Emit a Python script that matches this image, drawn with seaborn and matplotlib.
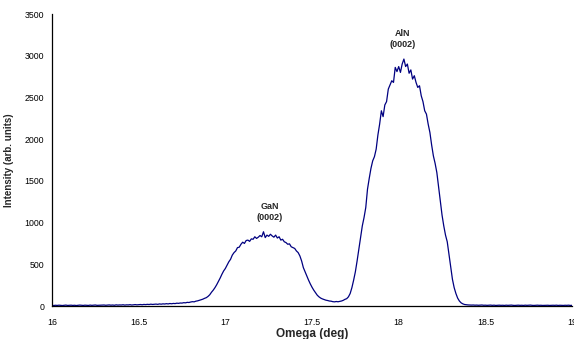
import numpy as np
import pandas as pd
import matplotlib
matplotlib.use('Agg')
import matplotlib.pyplot as plt
import seaborn as sns

# ========= Data (0.01 deg steps from 16 to 19) =========
omega_start = 16.0
omega_step = 0.01

intensity = [
    8, 6, 9, 7, 10, 8, 6, 9, 11, 7,                              # 16.00
    8, 10, 7, 9, 6, 8, 11, 9, 7, 10,                             # 16.10
    9, 7, 11, 8, 10, 12, 8, 9, 11, 10,                           # 16.20
    12, 9, 11, 13, 10, 12, 9, 14, 11, 13,                        # 16.30
    12, 15, 11, 14, 13, 16, 12, 15, 17, 14,                      # 16.40
    16, 18, 15, 19, 17, 20, 18, 22, 19, 21,                      # 16.50
    23, 20, 25, 22, 26, 24, 28, 25, 30, 27,                      # 16.60
    31, 29, 34, 32, 36, 35, 40, 38, 44, 42,                      # 16.70
    48, 52, 50, 58, 62, 68, 75, 82, 92, 100,                     # 16.80
    115, 135, 165, 190, 220, 255, 295, 335, 380, 420,            # 16.90
    450, 490, 530, 560, 610, 640, 660, 700, 705, 740,            # 17.00
    765, 750, 785, 790, 775, 805, 800, 830, 810, 825,            # 17.10
    845, 830, 890, 820, 850, 835, 860, 840, 825, 850,            # 17.20
    815, 830, 790, 800, 770, 760, 740, 745, 710, 700,            # 17.30
    690, 660, 640, 600, 540, 460, 410, 360, 310, 265,            # 17.40
    225, 190, 160, 130, 110, 95, 85, 78, 70, 66,                 # 17.50
    60, 58, 52, 50, 54, 51, 55, 60, 68, 80,                      # 17.60
    88, 110, 150, 220, 310, 410, 540, 680, 820, 960,             # 17.70
    1060, 1180, 1400, 1530, 1650, 1740, 1790, 1880, 2050, 2180,  # 17.80
    2340, 2270, 2410, 2450, 2600, 2650, 2700, 2680, 2860, 2810,  # 17.90
    2870, 2800, 2900, 2960, 2870, 2900, 2790, 2830, 2720, 2760,  # 18.00
    2680, 2620, 2640, 2520, 2450, 2340, 2300, 2180, 2080, 1930,  # 18.10
    1800, 1710, 1600, 1430, 1250, 1090, 960, 850, 770, 620,      # 18.20
    470, 320, 220, 150, 95, 60, 38, 26, 18, 15,                  # 18.30
    13, 12, 11, 12, 10, 11, 9, 10, 12, 9,                        # 18.40
    10, 8, 9, 11, 8, 10, 7, 9, 10, 8,                            # 18.50
    9, 7, 10, 8, 9, 11, 8, 7, 9, 10,                             # 18.60
    8, 9, 7, 10, 8, 9, 11, 8, 7, 9,                              # 18.70
    10, 8, 9, 7, 8, 10, 9, 7, 8, 9,                              # 18.80
    8, 10, 7, 9, 8, 7, 9, 8, 10, 7,                              # 18.90
    8,                                                           # 19.00
]

omega = omega_start + omega_step * np.arange(len(intensity))
scan = pd.DataFrame({'Omega': omega, 'Intensity': intensity})

# peak labels
peak_names = ['GaN\n(0002)', 'AlN\n(0002)']
peak_pos = [17.255, 18.02]
peak_label_y = [1130, 3200]

x_ticks = [16, 16.5, 17, 17.5, 18, 18.5, 19]
y_ticks = [0, 500, 1000, 1500, 2000, 2500, 3000, 3500]

# ========= Plotting =========
sns.set_style('white')
plt.rcParams['font.family'] = ['Liberation Sans', 'DejaVu Sans']

fig = plt.figure(figsize=(5.74, 3.39), dpi=100)
ax = fig.add_axes([0.0906, 0.0973, 0.906, 0.8614])

sns.lineplot(data=scan, x='Omega', y='Intensity', color='#000080', linewidth=0.9, ax=ax)

for name, xp, yp in zip(peak_names, peak_pos, peak_label_y):
    ax.text(xp, yp, name, ha='center', va='center', fontsize=6.5,
            fontweight='bold', linespacing=1.3)

ax.set_xlim(16, 19)
ax.set_ylim(0, 3500)
ax.set_xticks(x_ticks)
ax.set_xticklabels(['16', '16.5', '17', '17.5', '18', '18.5', '19'])
ax.set_yticks(y_ticks)
ax.tick_params(axis='both', labelsize=6.3, direction='out', length=2.5, width=0.8,
               colors='black', pad=3)
ax.tick_params(axis='x', pad=6)

ax.set_xlabel('Omega (deg)', fontsize=8.5, fontweight='bold', labelpad=1)
ax.set_ylabel('Intensity (arb. units)', fontsize=7, fontweight='bold', labelpad=8)

sns.despine(ax=ax)
for side in ['left', 'bottom']:
    ax.spines[side].set_color('black')
    ax.spines[side].set_linewidth(0.9)

fig.savefig('out.png', dpi=100)
